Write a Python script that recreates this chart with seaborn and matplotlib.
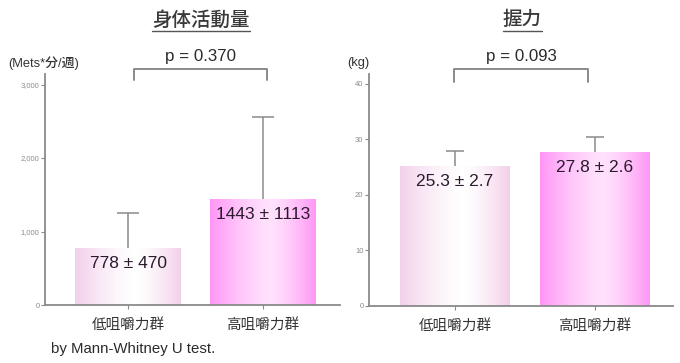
import numpy as np
import pandas as pd
import matplotlib
matplotlib.use("Agg")
import matplotlib.pyplot as plt
import matplotlib.transforms as mtransforms
from matplotlib.colors import to_rgb
import seaborn as sns

# ---- data ----
groups = ["低咀嚼力群", "高咀嚼力群"]
activity_mean = [778, 1443]
activity_sd = [470, 1113]
grip_mean = [25.3, 27.8]
grip_sd = [2.7, 2.6]
p_values = ["p = 0.370", "p = 0.093"]
titles = ["身体活動量", "握力"]
units = ["(Mets*分/週)", "(kg)"]
activity_ticks = [0, 1000, 2000, 3000]
activity_ticklabels = ["0", "1,000", "2,000", "3,000"]
grip_ticks = [0, 10, 20, 30, 40]
grip_ticklabels = ["0", "10", "20", "30", "40"]

sns.set_theme(style="white")
plt.rcParams["font.family"] = ["Liberation Sans", "Noto Sans CJK JP", "DejaVu Sans"]

W, H = 680, 363
fig = plt.figure(figsize=(W / 100, H / 100), dpi=100)
fig.patch.set_facecolor("white")


def px_axes(x0, x1, y_top, y_bot):
    return fig.add_axes([x0 / W, 1 - y_bot / H, (x1 - x0) / W, (y_bot - y_top) / H])


ax1 = px_axes(45, 340, 74, 305)
ax2 = px_axes(369, 673, 74, 306)

edge_colors = ["#f3d0ea", "#ff96f6"]
center_mix = [0.0, 0.28]
spine_col = "#8a8a8a"


def gradient_fill(ax, patch, edge, floor):
    x0, y0 = patch.get_x(), patch.get_y()
    w, h = patch.get_width(), patch.get_height()
    t = np.linspace(0, 1, 256)
    peak = 0.57
    d = np.where(t < peak, (peak - t) / peak, (t - peak) / (1 - peak))
    wgt = floor + (1 - floor) * np.clip(d, 0, 1) ** 1.4
    c = np.array(to_rgb(edge))
    rgb = (1 - wgt)[:, None] * np.ones(3)[None, :] + wgt[:, None] * c[None, :]
    img = rgb[None, :, :]
    im = ax.imshow(img, extent=[x0, x0 + w, y0, y0 + h], aspect="auto",
                   interpolation="bilinear", zorder=1, origin="lower")
    im.set_clip_path(patch)
    patch.set_facecolor("none")
    patch.set_edgecolor("none")


def panel(ax, means, sds, ylim, ticks, ticklabels, xlim, capw, title, unit,
          ptext, br_x, br_leg, title_x, unit_x):
    df = pd.DataFrame({"group": groups, "value": means})
    sns.barplot(data=df, x="group", y="value", ax=ax, width=0.785,
                errorbar=None, color="white")
    for patch, ec, fl in zip(ax.patches, edge_colors, center_mix):
        gradient_fill(ax, patch, ec, fl)
    xs = np.arange(len(means))
    tops = np.array(means) + np.array(sds)
    ax.vlines(xs, means, tops, color=spine_col, lw=1.1, zorder=3)
    ax.hlines(tops, xs - capw / 2, xs + capw / 2, color=spine_col, lw=1.1, zorder=3)
    for x, m, s in zip(xs, means, sds):
        ax.annotate(f"{m} ± {s}", (x, m), xytext=(0, -6), textcoords="offset points",
                    ha="center", va="top", fontsize=12.5, color="#2b1a2e", zorder=4)
    ax.set_xlim(*xlim)
    ax.set_ylim(*ylim)
    ax.set_yticks(ticks)
    ax.set_yticklabels(ticklabels, fontsize=5.5, color="#8c8c8c")
    ax.tick_params(axis="y", length=3, width=0.8, color=spine_col, pad=1, direction="out", left=True)
    ax.tick_params(axis="x", length=3, width=0.8, color=spine_col, pad=6, direction="out", bottom=True)
    ax.set_xticklabels(groups, fontsize=10.5, color="#333333")
    ax.set_xlabel("")
    ax.set_ylabel("")
    for side in ["top", "right"]:
        ax.spines[side].set_visible(False)
    for side in ["left", "bottom"]:
        ax.spines[side].set_color(spine_col)
        ax.spines[side].set_linewidth(1.3)
    # significance bracket
    tr = mtransforms.blended_transform_factory(ax.transData, ax.transAxes)
    ax.plot([br_x[0], br_x[0], br_x[1], br_x[1]], [br_leg, 1.0216, 1.0216, br_leg],
            color=spine_col, lw=1.4, transform=tr, clip_on=False)
    ax.text(sum(br_x) / 2, 1.075, ptext, transform=tr, ha="center", va="center",
            fontsize=12.2, color="#2b2b2b")
    # panel title, underlined
    t = fig.text(title_x / W, 1 - 20 / H, title, ha="center", va="center",
                 fontsize=14, color="#3a3a3a", fontweight="medium")
    fig.canvas.draw()
    bb = t.get_window_extent(fig.canvas.get_renderer()).transformed(fig.transFigure.inverted())
    fig.add_artist(plt.Line2D([bb.x0, bb.x1], [1 - 30.5 / H] * 2, color="#555555",
                              lw=1.0, transform=fig.transFigure))
    fig.text(unit_x / W, 1 - 63 / H, unit, ha="left", va="center", fontsize=9.3,
             color="#333333", fontweight="medium")


panel(ax1, activity_mean, activity_sd, (0, 3143), activity_ticks, activity_ticklabels,
      (-0.615, 1.57), 0.16, titles[0], units[0], p_values[0], (0.045, 1.03), 0.974,
      201, 8)
panel(ax2, grip_mean, grip_sd, (0, 41.8), grip_ticks, grip_ticklabels,
      (-0.614, 1.557), 0.13, titles[1], units[1], p_values[1], (-0.007, 0.95), 0.9655,
      522, 347)

fig.text(51 / W, 1 - 349 / H, "by Mann-Whitney U test.", ha="left", va="center",
         fontsize=10.8, color="#2b2b2b")

fig.savefig("out.png", dpi=100, facecolor="white")
